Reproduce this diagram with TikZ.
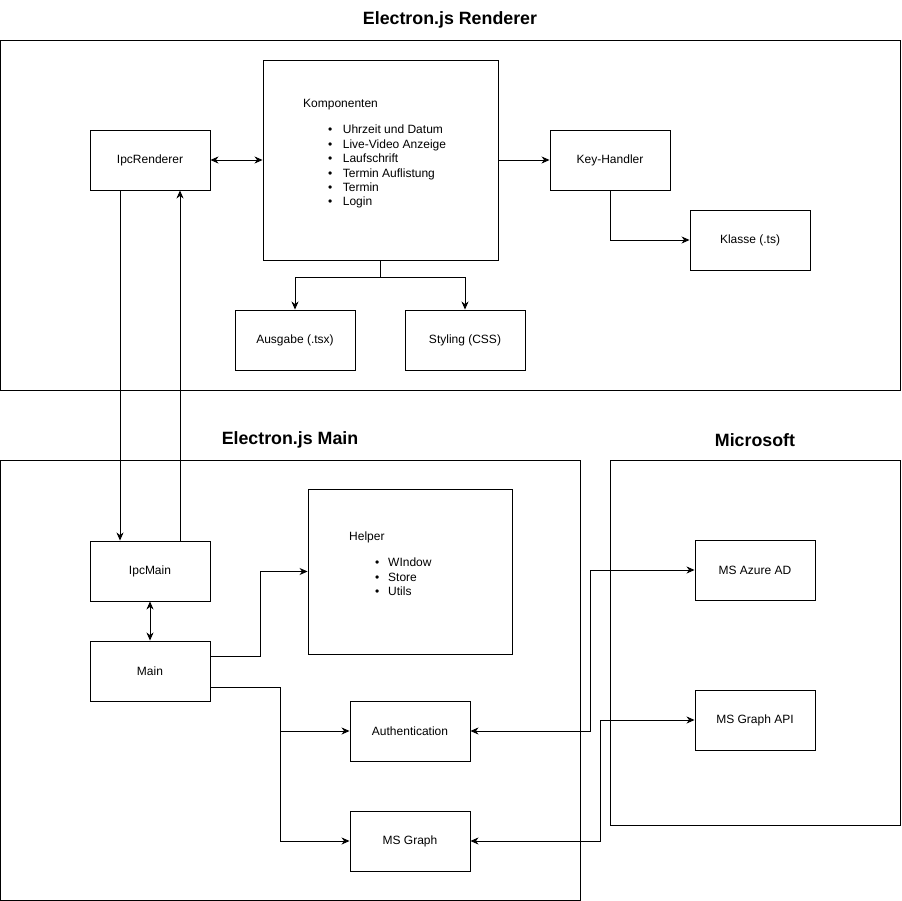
\documentclass[tikz,border=0pt]{standalone}
\usepackage{fontspec}
\setmainfont{Liberation Sans}
\usetikzlibrary{arrows.meta}
\begin{document}
\begin{tikzpicture}[x=1pt,y=-1pt,
  frame/.style={draw=black,line width=0.9pt},
  box/.style={draw=black,line width=0.9pt,minimum width=120pt,minimum height=60pt,inner sep=0pt,font=\fontsize{12}{14}\selectfont},
  title/.style={font=\fontsize{17.8}{21}\selectfont\bfseries},
  txt/.style={font=\fontsize{12}{14.4}\selectfont,inner sep=0pt},
  conn/.style={draw=black,line width=0.9pt},
  arr/.style={conn,-{Stealth[length=8pt,width=7pt,inset=2.5pt]}},
  barr/.style={conn,{Stealth[length=8pt,width=7pt,inset=2.5pt]}-{Stealth[length=8pt,width=7pt,inset=2.5pt]}}
]
\useasboundingbox (0,0) rectangle (902,901);
\fill[white] (0,0) rectangle (902,901);
% frames
\draw[frame] (0.5,40) rectangle (900,390);
\draw[frame] (0.5,460) rectangle (580,900);
\draw[frame] (610,460) rectangle (900,825);
\node[title] (t1) at (450,20) {Electron.js Renderer};
\node[title] (t2) at (290,440) {Electron.js Main};
\node[title] (t3) at (755,440) {Microsoft};
% renderer
\node[box] (ipcr) at (150,160) {IpcRenderer};
\node[box,minimum width=235pt,minimum height=200pt] (komp) at (380.5,160) {};
\node[txt,anchor=west] (kompt) at (303,105) {Komponenten};
\node[txt,anchor=west] (kompl) at (328,167) {\begin{tabular}{@{}l@{\hspace{10.5pt}}l@{}}
\textbullet&Uhrzeit und Datum\\
\textbullet&Live-Video Anzeige\\
\textbullet&Laufschrift\\
\textbullet&Termin Auflistung\\
\textbullet&Termin\\
\textbullet&Login
\end{tabular}};
\node[box] (key) at (610,160) {Key-Handler};
\node[box] (klasse) at (750,240) {Klasse (.ts)};
\node[box] (ausg) at (295,340) {Ausgabe (.tsx)};
\node[box] (styl) at (465,340) {Styling (CSS)};
% main
\node[box] (ipcm) at (150,571) {IpcMain};
\node[box] (main) at (150,671) {Main};
\node[box,minimum width=204pt,minimum height=165pt] (help) at (410,571.5) {};
\node[txt,anchor=west] (helpt) at (349,537) {Helper};
\node[txt,anchor=west] (helpl) at (375,578.3) {\begin{tabular}{@{}l@{\hspace{8.8pt}}l@{}}
\textbullet&WIndow\\
\textbullet&Store\\
\textbullet&Utils
\end{tabular}};
\node[box] (auth) at (410,731) {Authentication};
\node[box] (msg) at (410,841) {MS Graph};
% microsoft
\node[box] (azure) at (755,570) {MS Azure AD};
\node[box] (gapi) at (755,720) {MS Graph API};
% connectors
\draw[barr] (ipcr.east) -- (komp.west |- ipcr.east);
\draw[arr] (komp.east |- key.west) -- (key.west);
\draw[arr] (key.south) |- (klasse.west);
\coordinate (ksplit) at (380.5,277);
\draw[conn] (komp.south) -- (ksplit);
\draw[arr] (ksplit) -| (ausg.north);
\draw[arr] (ksplit) -| (styl.north);
\draw[arr] (ipcr.south -| 120,0) -- (ipcm.north -| 120,0);
\draw[arr] (ipcm.north -| 180,0) -- (ipcr.south -| 180,0);
\draw[barr] (ipcm.south) -- (main.north);
\draw[arr] (main.east |- 0,656) -- (260,656) |- (help.west);
\coordinate (msplit) at (280,731);
\draw[conn] (main.east |- 0,687) -| (msplit);
\draw[arr] (msplit) -- (auth.west);
\draw[arr] (msplit) |- (msg.west);
\draw[barr] (auth.east) -- (590,731) |- (azure.west);
\draw[barr] (msg.east) -- (600,841) |- (gapi.west);
\end{tikzpicture}
\end{document}
